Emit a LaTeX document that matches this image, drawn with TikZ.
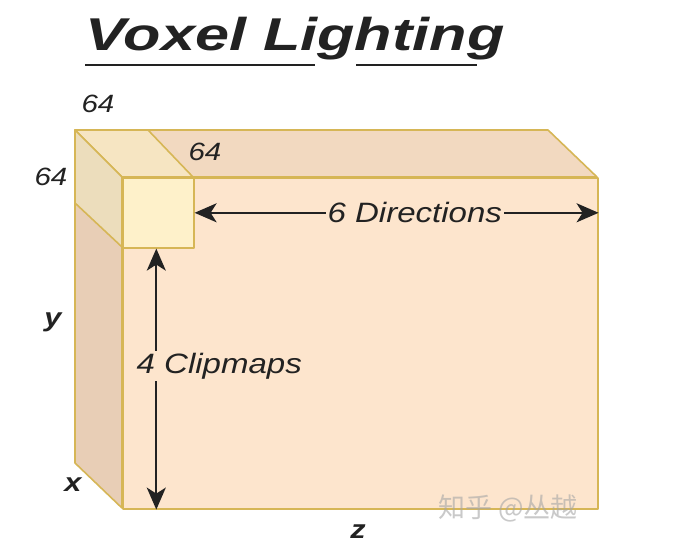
\documentclass[tikz,border=0pt]{standalone}
\usepackage{fontspec}
\setmainfont{Liberation Sans}[FakeStretch=1.18]
\newfontfamily\titlefont{Liberation Sans}[FakeStretch=1.33]
\newfontfamily\cjkfont{Noto Sans CJK SC}
\usetikzlibrary{arrows.meta}
\definecolor{frontc}{HTML}{FDE5CD}
\definecolor{topc}{HTML}{F2D9C0}
\definecolor{leftc}{HTML}{E8CEB6}
\definecolor{sfrontc}{HTML}{FEF1CA}
\definecolor{stopc}{HTML}{F6E5C2}
\definecolor{sleftc}{HTML}{ECDDBC}
\definecolor{edgec}{HTML}{D6B656}
\definecolor{inkc}{HTML}{222222}
\tikzset{
  face/.style={draw=edgec, line width=1.6pt, line join=round},
  lbl/.style={text=inkc, font=\fontsize{25}{28}\selectfont\itshape, inner sep=0pt},
  axlbl/.style={text=inkc, font=\fontsize{26}{28}\selectfont\bfseries\itshape, inner sep=0pt},
  phrase/.style={text=inkc, font=\fontsize{28}{32}\selectfont\itshape, fill=frontc, inner sep=2pt},
  arr/.style={draw=inkc, line width=2.2pt, {Stealth[length=22pt,width=19pt,inset=6pt]}-{Stealth[length=22pt,width=19pt,inset=6pt]}}
}
\begin{document}
\begin{tikzpicture}[x=1pt,y=-1pt]
\useasboundingbox (0,0) rectangle (681,557);
% big box
\fill[white] (0,0) rectangle (681,557);
\draw[face, fill=topc] (75,130) -- (548,130) -- (597,177) -- (122,177) -- cycle;
\draw[face, fill=leftc] (75,130) -- (122,177) -- (122,508) -- (75,463) -- cycle;
\node[face, fill=frontc, minimum width=475pt, minimum height=331pt, inner sep=0pt, anchor=north west] (bf) at (122,177) {};
% small cube
\draw[face, fill=stopc] (75,130) -- (148,130) -- (193,177) -- (122,177) -- cycle;
\draw[face, fill=sleftc] (75,130) -- (122,177) -- (122,247) -- (75,203) -- cycle;
\node[face, fill=sfrontc, minimum width=71pt, minimum height=70pt, inner sep=0pt, anchor=north west] (sf) at (122,177) {};
% title
\node[text=inkc, font=\titlefont\fontsize{46}{50}\selectfont\bfseries\itshape, inner sep=0pt, anchor=base west] (title) at (85,50) {Voxel Lighting};
\draw[inkc, line width=2.8pt] (85,65) -- (315,65);
\draw[inkc, line width=2.8pt] (356,65) -- (477,65);
% arrows
\draw[arr] (sf.east) -- (sf.east -| bf.east) node[phrase, pos=0.545] (dir) {6 Directions};
\draw[arr] ([xshift=-2pt]sf.south) -- ([xshift=-2pt]sf.south |- bf.south) node[phrase, pos=0.45, xshift=63pt] (clip) {4 Clipmaps};
% labels
\node[lbl] (l64a) at (98,104) {64};
\node[lbl] (l64b) at (205,152) {64};
\node[lbl] (l64c) at (51,177) {64};
\node[axlbl] (ly) at (53,322) {y};
\node[axlbl] (lx) at (73,485) {x};
\node[axlbl] (lz) at (358,532) {z};
% watermark
\node[text=black!35, opacity=0.6, font=\cjkfont\fontsize{27}{30}\selectfont, inner sep=0pt] (wm) at (508,508) {知乎 @丛越};
\end{tikzpicture}
\end{document}
